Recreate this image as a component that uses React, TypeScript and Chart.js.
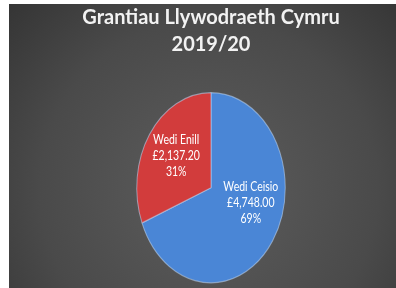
import React, { useEffect, useRef } from "react";
import { Chart, registerables } from "chart.js";

Chart.register(...registerables);

const categories = ["Wedi Ceisio", "Wedi Enill"];
const amounts = [4748.0, 2137.2];
const titleLines = ["Grantiau Llywodraeth Cymru", "2019/20"];

const sliceColors = ["#4a86d6", "#d23c3c"];
const labelNudge = [
  [6, -11],
  [-1, -2],
];
const W = 387;
const H = 284;
const K = 1.28; // vertical stretch of the pie

const fmtGBP = (v: number) =>
  "£" + v.toLocaleString("en-GB", { minimumFractionDigits: 2, maximumFractionDigits: 2 });

const backgroundPlugin = {
  id: "bg",
  beforeDraw(chart: any) {
    const ctx = chart.ctx as CanvasRenderingContext2D;
    const g = ctx.createRadialGradient(200, 185, 10, 200, 185, 300);
    g.addColorStop(0, "#5c5c5c");
    g.addColorStop(0.55, "#4a4a4a");
    g.addColorStop(1, "#2f2f2f");
    ctx.save();
    ctx.fillStyle = g;
    ctx.fillRect(0, 0, chart.width, chart.height);
    ctx.restore();
  },
};

const ellipsePlugin = {
  id: "ellipse",
  beforeDatasetsDraw(chart: any) {
    const arc = chart.getDatasetMeta(0).data[0];
    if (!arc) return;
    const ctx = chart.ctx as CanvasRenderingContext2D;
    ctx.save();
    ctx.translate(arc.x, arc.y);
    ctx.scale(1, K);
    ctx.translate(-arc.x, -arc.y);
  },
  afterDatasetsDraw(chart: any) {
    const meta = chart.getDatasetMeta(0);
    const ctx = chart.ctx as CanvasRenderingContext2D;
    const data = chart.data.datasets[0].data as number[];
    const total = data.reduce((a, b) => a + b, 0);
    ctx.fillStyle = "#ffffff";
    ctx.font = "10.5px Lato";
    ctx.textAlign = "center";
    ctx.textBaseline = "middle";
    meta.data.forEach((el: any, i: number) => {
      const mid = (el.startAngle + el.endAngle) / 2;
      const r = el.outerRadius * 0.55;
      const px = el.x + Math.cos(mid) * r + labelNudge[i][0];
      const py = el.y + Math.sin(mid) * r + labelNudge[i][1];
      const lines = [
        chart.data.labels[i],
        fmtGBP(data[i]),
        Math.round((data[i] / total) * 100) + "%",
      ];
      const lh = 12.5;
      lines.forEach((t: string, j: number) => {
        ctx.fillText(t, px, py + (j - 1) * lh);
      });
    });
    ctx.restore();
  },
};

export default function App() {
  const ref = useRef<HTMLCanvasElement | null>(null);
  useEffect(() => {
    if (!ref.current) return;
    const chart = new Chart(ref.current, {
      type: "pie",
      data: {
        labels: categories,
        datasets: [
          {
            data: amounts,
            backgroundColor: sliceColors,
            borderColor: "rgba(190,215,245,0.55)",
            borderWidth: 1,
            hoverOffset: 0,
          },
        ],
      },
      options: {
        responsive: false,
        animation: false,
        events: [],
        layout: {
          padding: { left: 17, right: 0, top: 0, bottom: 25.5 },
        },
        plugins: {
          legend: { display: false },
          tooltip: { enabled: false },
          title: {
            display: true,
            text: titleLines,
            color: "#f2f2f2",
            font: { family: "Lato", size: 20, weight: "bold", lineHeight: 1.35 },
            padding: { top: 0.5, bottom: 54.5 },
          },
        },
      },
      plugins: [backgroundPlugin, ellipsePlugin],
    });
    return () => chart.destroy();
  }, []);
  return (
    <div style={{ position: "fixed", left: 9, top: 4, width: W, height: H }}>
      <canvas ref={ref} width={W} height={H} style={{ width: W, height: H, display: "block" }} />
    </div>
  );
}
